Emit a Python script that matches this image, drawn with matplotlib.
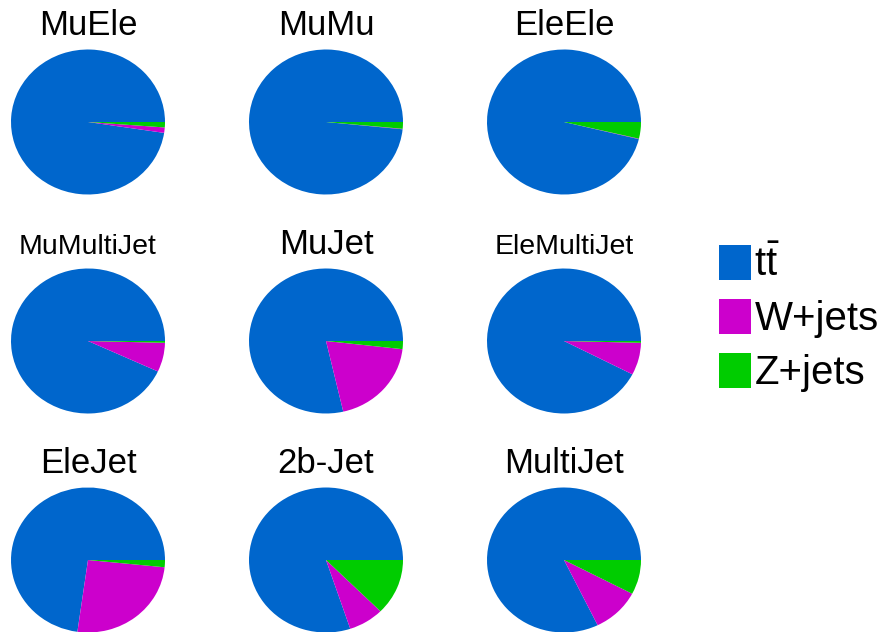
import matplotlib
matplotlib.use("Agg")
import matplotlib.pyplot as plt

plt.rcParams['font.family'] = ['Liberation Sans', 'DejaVu Sans']
plt.rcParams['mathtext.fontset'] = 'custom'
plt.rcParams['mathtext.rm'] = 'Liberation Sans'
plt.rcParams['mathtext.it'] = 'Liberation Sans'

# Sample composition (percent) per channel
channels = ["MuEle", "MuMu", "EleEle",
            "MuMultiJet", "MuJet", "EleMultiJet",
            "EleJet", "2b-Jet", "MultiJet"]
ttbar  = [97.6, 98.4, 96.2, 93.1, 78.6, 92.4, 72.8, 80.1, 82.2]
wjets  = [1.2, 0.1, 0.1, 6.5, 19.6, 7.2, 25.6, 7.4, 10.1]
zjets  = [1.2, 1.5, 3.7, 0.4, 1.8, 0.4, 1.6, 12.5, 7.7]

labels = [r'$\mathrm{t\bar{t}}$', "W+jets", "Z+jets"]
colors = ["#0066CC", "#CC00CC", "#00CC00"]

W, H = 883, 632
fig = plt.figure(figsize=(W / 100, H / 100), dpi=100)

col_x = [88, 326, 564]
row_y = [122, 341, 560]
rx, ry = 77, 72.5

wedges0 = None
for i, name in enumerate(channels):
    r, c = divmod(i, 3)
    cx, cy = col_x[c], row_y[r]
    ax = fig.add_axes([(cx - rx) / W, 1 - (cy + ry) / H, 2 * rx / W, 2 * ry / H])
    wedges, _ = ax.pie([ttbar[i], wjets[i], zjets[i]], colors=colors,
                       startangle=0, counterclock=True,
                       wedgeprops=dict(linewidth=0))
    ax.set_aspect('auto')
    ax.set_xlim(-1, 1)
    ax.set_ylim(-1, 1)
    ax.axis('off')
    if wedges0 is None:
        wedges0 = wedges
    fs = 20.5 if len(name) > 8 else 25
    fig.text(cx / W, 1 - (cy - 87) / H, name, ha='center', va='baseline',
             fontsize=fs)

fig.legend(wedges0, labels, loc='upper left',
           bbox_to_anchor=(719 / W, 1 - 245 / H), frameon=False,
           fontsize=29, handlelength=0.8, handleheight=0.97,
           handletextpad=0.08, labelspacing=0.36, borderpad=0,
           borderaxespad=0)

fig.savefig("out.png", dpi=100)
